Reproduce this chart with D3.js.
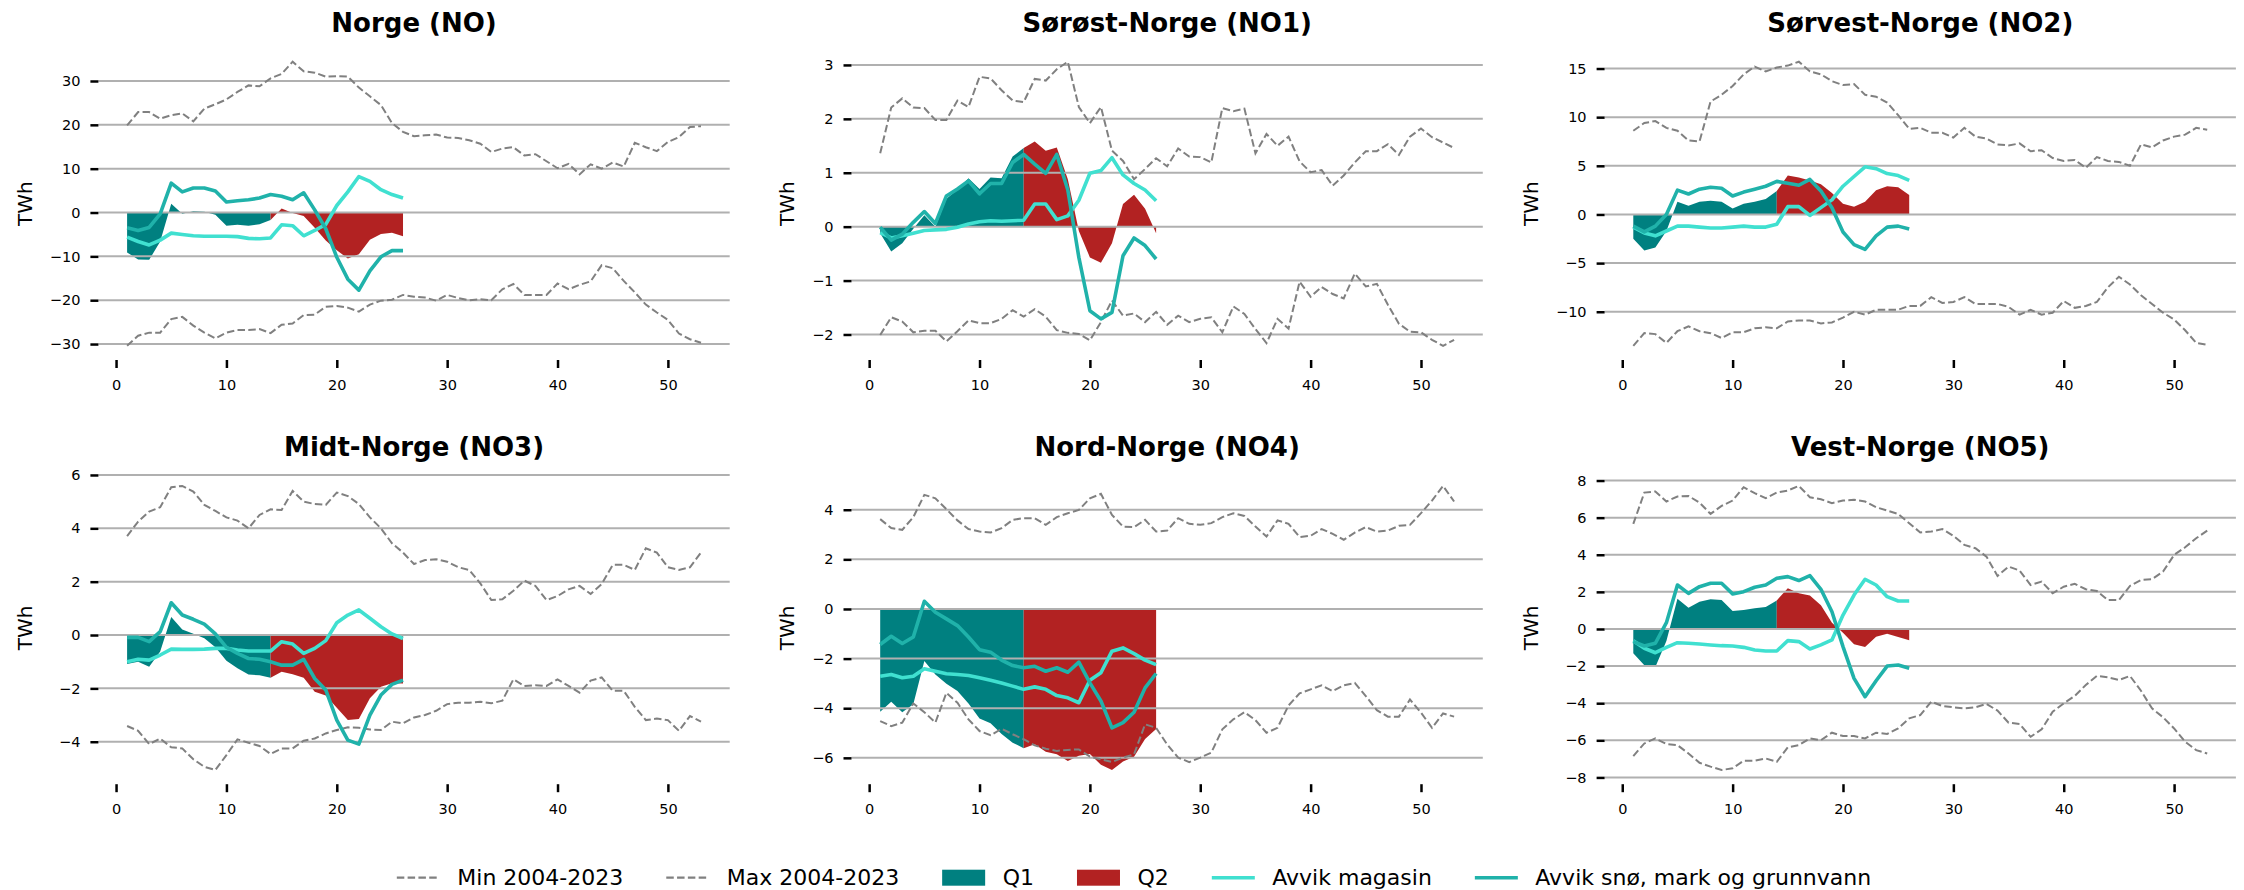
<!DOCTYPE html>
<html lang="no">
<head>
    <meta charset="UTF-8">
    <title>Avvik magasin og snø</title>
    <style>
        body { margin: 0; background: #fff; }
        text { font-family: "DejaVu Sans", sans-serif; fill: #000; }
    </style>
</head>
<body>
    <script src="https://cdn.jsdelivr.net/npm/d3@7"></script>
    <script>
        // uke 1-53
        var weeks = d3.range(1, 54);

        // Norge (NO)
        var noMax = [19.9,22.9,22.9,21.4,22.2,22.6,20.8,23.7,24.7,25.8,27.5,29.0,28.8,30.6,31.6,34.4,32.2,31.9,31.0,31.1,
                     31.0,28.5,26.5,24.5,20.4,18.4,17.4,17.6,17.8,17.1,17.0,16.5,15.7,13.8,14.6,14.9,13.0,13.3,11.7,10.1,
                     11.1,8.7,11.0,10.0,11.4,10.5,15.9,14.9,14.0,16.1,17.2,19.5,19.7];
        var noMin = [-30.4,-28.1,-27.4,-27.4,-24.3,-23.8,-25.8,-27.4,-28.7,-27.4,-26.8,-26.8,-26.6,-27.5,-25.6,-25.3,-23.4,-23.3,-21.5,-21.3,
                     -21.7,-22.6,-21.0,-20.1,-19.9,-18.8,-19.2,-19.4,-20.1,-18.8,-19.5,-20.0,-19.8,-20.0,-17.5,-16.3,-18.8,-18.8,-18.8,-16.2,
                     -17.5,-16.5,-15.7,-12.0,-12.7,-15.6,-18.2,-21.0,-22.8,-24.5,-27.6,-28.9,-29.7];
        var noMagasin = [-5.6,-6.6,-7.4,-6.3,-4.7,-5.0,-5.3,-5.4,-5.4,-5.4,-5.5,-5.9,-6.0,-5.8,-2.8,-3.0,-5.3,-4.1,-2.7,1.6,
                         4.7,8.2,7.1,5.2,4.1,3.3];
        var noSno = [-3.5,-4.1,-3.4,-0.3,6.7,4.7,5.6,5.6,4.9,2.4,2.7,2.9,3.3,4.1,3.7,2.9,4.5,0.6,-3.7,-10.2,
                     -15.2,-17.7,-13.3,-10.1,-8.7,-8.7];
        var noTicks = [-30, -20, -10, 0, 10, 20, 30];

        // Sørøst-Norge (NO1)
        var no1Max = [1.36,2.21,2.38,2.21,2.20,1.98,1.98,2.34,2.22,2.78,2.75,2.53,2.34,2.31,2.74,2.71,2.92,3.06,2.22,1.92,
                      2.22,1.41,1.22,0.88,1.07,1.27,1.12,1.45,1.30,1.29,1.19,2.20,2.14,2.19,1.36,1.72,1.50,1.67,1.21,1.01,
                      1.05,0.76,0.95,1.19,1.40,1.40,1.53,1.33,1.67,1.82,1.66,1.56,1.46];
        var no1Min = [-2.01,-1.68,-1.76,-1.96,-1.93,-1.93,-2.13,-1.94,-1.74,-1.79,-1.79,-1.71,-1.55,-1.67,-1.53,-1.67,-1.92,-1.97,-1.99,-2.11,
                      -1.77,-1.37,-1.65,-1.61,-1.77,-1.58,-1.82,-1.65,-1.77,-1.71,-1.68,-1.96,-1.48,-1.62,-1.90,-2.16,-1.71,-1.89,-1.02,-1.30,
                      -1.12,-1.25,-1.33,-0.87,-1.11,-1.06,-1.45,-1.80,-1.95,-1.96,-2.10,-2.21,-2.10];
        var no1Magasin = [-0.11,-0.21,-0.17,-0.12,-0.07,-0.06,-0.05,-0.01,0.05,0.09,0.11,0.10,0.11,0.12,0.42,0.42,0.13,0.20,0.49,0.99,
                          1.04,1.28,0.96,0.80,0.68,0.48];
        var no1Sno = [-0.01,-0.25,-0.14,0.08,0.28,0.06,0.57,0.70,0.85,0.61,0.80,0.80,1.19,1.34,1.16,0.99,1.34,0.68,-0.57,-1.56,
                      -1.71,-1.59,-0.54,-0.21,-0.35,-0.60];
        var no1Ticks = [-2, -1, 0, 1, 2, 3];

        // Sørvest-Norge (NO2)
        var no2Max = [8.6,9.4,9.6,8.9,8.6,7.6,7.5,11.6,12.3,13.2,14.4,15.2,14.7,15.1,15.3,15.7,14.7,14.4,13.7,13.3,
                      13.4,12.3,12.1,11.5,10.2,8.8,8.9,8.4,8.4,7.9,8.9,8.0,7.8,7.2,7.1,7.3,6.5,6.6,5.8,5.5,
                      5.6,4.8,5.9,5.5,5.4,5.0,7.2,6.9,7.6,8.0,8.2,8.9,8.7];
        var no2Min = [-13.5,-12.2,-12.3,-13.2,-12.0,-11.5,-12.0,-12.2,-12.7,-12.1,-12.1,-11.7,-11.6,-11.7,-11.0,-10.9,-10.9,-11.2,-11.1,-10.6,
                      -10.0,-10.3,-9.8,-9.8,-9.8,-9.4,-9.4,-8.5,-9.1,-9.0,-8.5,-9.2,-9.2,-9.2,-9.5,-10.3,-9.8,-10.3,-10.1,-8.9,
                      -9.6,-9.4,-9.0,-7.5,-6.4,-7.2,-8.3,-9.2,-10.1,-10.8,-11.9,-13.2,-13.4];
        var no2Magasin = [-1.3,-1.9,-2.2,-1.7,-1.2,-1.2,-1.3,-1.4,-1.4,-1.3,-1.2,-1.3,-1.3,-1.0,0.8,0.8,-0.1,0.7,1.5,2.9,
                          3.9,4.9,4.7,4.2,4.0,3.5];
        var no2Sno = [-1.2,-1.8,-1.2,0.0,2.5,2.1,2.6,2.8,2.7,1.9,2.3,2.6,2.9,3.4,3.2,3.0,3.6,2.4,0.7,-1.8,
                      -3.1,-3.6,-2.2,-1.3,-1.2,-1.5];
        var no2Ticks = [-10, -5, 0, 5, 10, 15];

        // Midt-Norge (NO3)
        var no3Max = [3.71,4.25,4.63,4.79,5.54,5.59,5.38,4.88,4.65,4.41,4.29,4.00,4.50,4.71,4.69,5.40,5.00,4.91,4.88,5.34,
                      5.21,4.91,4.41,4.00,3.44,3.09,2.66,2.81,2.84,2.75,2.54,2.44,1.94,1.31,1.34,1.66,2.04,1.84,1.31,1.46,
                      1.71,1.84,1.54,1.91,2.63,2.63,2.44,3.25,3.09,2.54,2.44,2.54,3.09];
        var no3Min = [-3.41,-3.59,-4.09,-3.88,-4.21,-4.25,-4.66,-4.94,-5.06,-4.50,-3.91,-4.04,-4.16,-4.46,-4.25,-4.25,-3.96,-3.88,-3.69,-3.56,
                      -3.46,-3.48,-3.54,-3.56,-3.25,-3.31,-3.09,-3.00,-2.84,-2.59,-2.54,-2.54,-2.50,-2.56,-2.46,-1.66,-1.91,-1.88,-1.91,-1.66,
                      -1.91,-2.16,-1.71,-1.59,-2.09,-2.09,-2.69,-3.19,-3.13,-3.19,-3.59,-3.04,-3.25];
        var no3Magasin = [-1.00,-0.91,-0.94,-0.75,-0.53,-0.54,-0.54,-0.53,-0.50,-0.50,-0.56,-0.60,-0.60,-0.60,-0.25,-0.34,-0.69,-0.50,-0.21,0.46,
                          0.75,0.94,0.63,0.31,0.04,-0.13];
        var no3Sno = [-0.09,-0.09,-0.25,0.13,1.21,0.75,0.59,0.41,0.04,-0.46,-0.69,-0.88,-0.91,-1.00,-1.13,-1.13,-0.91,-1.63,-2.06,-3.19,
                      -3.94,-4.09,-3.00,-2.25,-1.85,-1.69];
        var no3Ticks = [-4, -2, 0, 2, 4, 6];

        // Nord-Norge (NO4)
        var no4Max = [3.62,3.26,3.19,3.70,4.60,4.46,4.02,3.57,3.22,3.12,3.08,3.26,3.59,3.66,3.66,3.39,3.70,3.86,3.99,4.46,
                      4.64,3.79,3.32,3.30,3.59,3.12,3.16,3.66,3.43,3.39,3.46,3.70,3.86,3.75,3.32,2.92,3.57,3.43,2.90,2.95,
                      3.22,3.03,2.79,3.08,3.30,3.12,3.16,3.35,3.39,3.86,4.37,4.96,4.33];
        var no4Min = [-4.52,-4.72,-4.58,-3.81,-4.16,-4.58,-3.38,-3.78,-4.45,-4.92,-5.09,-4.83,-5.05,-5.25,-5.50,-5.63,-5.72,-5.68,-5.66,-5.95,
                      -6.06,-6.17,-5.99,-5.86,-4.65,-4.79,-5.46,-5.99,-6.17,-5.99,-5.79,-4.85,-4.45,-4.16,-4.48,-4.99,-4.79,-3.89,-3.40,-3.24,
                      -3.08,-3.31,-3.08,-2.98,-3.51,-4.08,-4.34,-4.34,-3.65,-4.18,-4.79,-4.21,-4.34];
        var no4Magasin = [-2.71,-2.64,-2.77,-2.71,-2.41,-2.51,-2.61,-2.64,-2.68,-2.77,-2.87,-2.98,-3.11,-3.24,-3.14,-3.24,-3.49,-3.58,-3.78,-2.87,
                          -2.57,-1.70,-1.57,-1.80,-2.06,-2.24];
        var no4Sno = [-1.43,-1.10,-1.39,-1.13,0.31,-0.13,-0.40,-0.67,-1.13,-1.64,-1.74,-2.06,-2.28,-2.37,-2.31,-2.51,-2.37,-2.55,-2.14,-2.98,
                      -3.71,-4.79,-4.58,-4.16,-3.18,-2.60];
        var no4Ticks = [-6, -4, -2, 0, 2, 4];

        // Vest-Norge (NO5)
        var no5Max = [5.66,7.35,7.41,6.87,7.14,7.17,6.81,6.20,6.63,6.92,7.64,7.32,7.05,7.35,7.46,7.71,7.10,6.99,6.78,6.92,
                      6.96,6.87,6.56,6.38,6.20,5.70,5.20,5.25,5.38,5.02,4.53,4.35,3.90,2.86,3.36,3.15,2.37,2.55,1.92,2.28,
                      2.43,2.14,2.05,1.56,1.56,2.32,2.64,2.68,3.09,3.99,4.40,4.89,5.30];
        var no5Min = [-6.85,-6.17,-5.90,-6.20,-6.26,-6.71,-7.21,-7.42,-7.60,-7.51,-7.10,-7.10,-6.98,-7.16,-6.38,-6.26,-5.90,-5.99,-5.59,-5.77,
                      -5.77,-5.90,-5.59,-5.66,-5.36,-4.82,-4.64,-3.92,-4.15,-4.22,-4.28,-4.22,-4.04,-4.40,-5.05,-5.12,-5.81,-5.41,-4.46,-4.01,
                      -3.61,-3.02,-2.53,-2.61,-2.75,-2.53,-3.33,-4.28,-4.76,-5.36,-6.08,-6.53,-6.71];
        var no5Magasin = [-0.63,-1.04,-1.28,-0.99,-0.74,-0.77,-0.81,-0.86,-0.90,-0.92,-0.99,-1.13,-1.19,-1.19,-0.63,-0.68,-1.08,-0.86,-0.59,0.75,
                          1.83,2.68,2.37,1.74,1.51,1.51];
        var no5Sno = [-0.68,-0.92,-0.77,0.34,2.37,1.92,2.28,2.46,2.46,1.89,2.01,2.25,2.37,2.73,2.82,2.61,2.88,2.14,0.93,-0.95,
                      -2.66,-3.65,-2.79,-2.00,-1.94,-2.12];
        var no5Ticks = [-8, -6, -4, -2, 0, 2, 4, 6, 8];

        var xTicks = [0, 10, 20, 30, 40, 50];
        var legendLabels = ["Min 2004-2023", "Max 2004-2023", "Q1", "Q2", "Avvik magasin", "Avvik snø, mark og grunnvann"];

        var regions = [
            { title: "Norge (NO)",          max: noMax,  min: noMin,  mag: noMagasin,  sno: noSno,  ticks: noTicks },
            { title: "Sørøst-Norge (NO1)",  max: no1Max, min: no1Min, mag: no1Magasin, sno: no1Sno, ticks: no1Ticks },
            { title: "Sørvest-Norge (NO2)", max: no2Max, min: no2Min, mag: no2Magasin, sno: no2Sno, ticks: no2Ticks },
            { title: "Midt-Norge (NO3)",    max: no3Max, min: no3Min, mag: no3Magasin, sno: no3Sno, ticks: no3Ticks },
            { title: "Nord-Norge (NO4)",    max: no4Max, min: no4Min, mag: no4Magasin, sno: no4Sno, ticks: no4Ticks },
            { title: "Vest-Norge (NO5)",    max: no5Max, min: no5Min, mag: no5Magasin, sno: no5Sno, ticks: no5Ticks }
        ];

        var cRange = "#808080", cQ1 = "#008080", cQ2 = "#b22222", cMag = "#40e0d0", cSno = "#20b2aa", cGrid = "#b0b0b0";

        // layout
        var W = 2244, H = 890;
        var colLeft = [98.4, 851.5, 1604.6];
        var rowTop = [47.5, 471.7];
        var plotW = 631.3, plotH = 312.5;

        var svg = d3.select("body").append("svg")
            .attr("width", W)
            .attr("height", H);

        var yAxes = [[], [], []];

        regions.forEach(function(r, i) {
            var col = i % 3, row = Math.floor(i / 3);
            var g = svg.append("g")
                .attr("transform", "translate(" + colLeft[col] + "," + rowTop[row] + ")");

            // samlet avvik = magasin + snø (fylt flate)
            var total = r.mag.map(function(v, k) { return v + r.sno[k]; });

            var wExt = d3.extent(weeks), wPad = (wExt[1] - wExt[0]) * 0.05;
            var all = r.min.concat(r.max, r.mag, r.sno, total, [0]);
            var lo = d3.min(all), hi = d3.max(all), pad = (hi - lo) * 0.05;

            var x = d3.scaleLinear().domain([wExt[0] - wPad, wExt[1] + wPad]).range([0, plotW]);
            var y = d3.scaleLinear().domain([lo - pad, hi + pad]).range([plotH, 0]);

            var area = d3.area()
                .x(function(d) { return x(d.w); })
                .y0(y(0))
                .y1(function(d) { return y(d.v); });

            var pts = total.map(function(v, k) { return { w: weeks[k], v: v }; });
            g.append("path").datum(pts.slice(0, 14)).attr("d", area).attr("fill", cQ1);
            g.append("path").datum(pts.slice(13, 26)).attr("d", area).attr("fill", cQ2);

            // grid over fills (matplotlib axisbelow='line')
            g.selectAll(".grid")
                .data(r.ticks)
                .enter()
                .append("line")
                .attr("x1", 0).attr("x2", plotW)
                .attr("y1", function(d) { return y(d); })
                .attr("y2", function(d) { return y(d); })
                .attr("stroke", cGrid)
                .attr("stroke-width", 2);

            var line = d3.line()
                .x(function(d, k) { return x(weeks[k]); })
                .y(function(d) { return y(d); });

            [r.min, r.max].forEach(function(s) {
                g.append("path").datum(s).attr("d", line)
                    .attr("fill", "none")
                    .attr("stroke", cRange)
                    .attr("stroke-width", 2)
                    .attr("stroke-dasharray", "7.5,3.3");
            });

            g.append("path").datum(r.mag).attr("d", line)
                .attr("fill", "none").attr("stroke", cMag).attr("stroke-width", 3.6)
                .attr("stroke-linejoin", "round");
            g.append("path").datum(r.sno).attr("d", line)
                .attr("fill", "none").attr("stroke", cSno).attr("stroke-width", 3.6)
                .attr("stroke-linejoin", "round");

            // axes
            var ya = g.append("g")
                .call(d3.axisLeft(y).tickValues(r.ticks).tickSize(8).tickPadding(10).tickFormat(d3.format("d")));
            ya.select(".domain").remove();
            ya.selectAll("line").attr("stroke", "#000").attr("stroke-width", 2.5);
            ya.selectAll("text").attr("font-size", 14.5).attr("font-family", "DejaVu Sans");
            yAxes[col].push(ya);

            var xa = g.append("g")
                .attr("transform", "translate(0," + plotH + ")")
                .call(d3.axisBottom(x).tickValues(xTicks).tickSize(8).tickPadding(11.5).tickFormat(d3.format("d")));
            xa.select(".domain").remove();
            xa.selectAll("line").attr("stroke", "#000").attr("stroke-width", 2.5);
            xa.selectAll("text").attr("font-size", 14.5).attr("font-family", "DejaVu Sans");

            g.append("text")
                .attr("x", plotW / 2)
                .attr("y", -16)
                .attr("text-anchor", "middle")
                .attr("font-size", 26)
                .attr("font-weight", "bold")
                .text(r.title);
        });

        // TWh labels, aligned per column on the widest tick labels
        yAxes.forEach(function(list, col) {
            var minX = d3.min(list, function(a) { return a.node().getBBox().x; });
            [0, 1].forEach(function(row) {
                var cx = colLeft[col] + minX - 25;
                var cy = rowTop[row] + plotH / 2;
                svg.append("text")
                    .attr("transform", "translate(" + cx + "," + cy + ") rotate(-90)")
                    .attr("text-anchor", "middle")
                    .attr("dy", "0.35em")
                    .attr("font-size", 20)
                    .text("TWh");
            });
        });

        // legend
        var legendStyle = [
            { kind: "dash", color: cRange },
            { kind: "dash", color: cRange },
            { kind: "box", color: cQ1 },
            { kind: "box", color: cQ2 },
            { kind: "line", color: cMag },
            { kind: "line", color: cSno }
        ];
        var legend = svg.append("g");
        var lx = 0, handleLen = 43, legendY = 877.7;
        legendLabels.forEach(function(label, i) {
            var s = legendStyle[i];
            var item = legend.append("g").attr("transform", "translate(" + lx + ",0)");
            if (s.kind === "box") {
                item.append("rect").attr("x", 0).attr("y", -8).attr("width", handleLen).attr("height", 16)
                    .attr("fill", s.color);
            } else {
                item.append("line").attr("x1", 0).attr("x2", handleLen).attr("y1", 0).attr("y2", 0)
                    .attr("stroke", s.color)
                    .attr("stroke-width", s.kind === "dash" ? 2.2 : 3.6)
                    .attr("stroke-dasharray", s.kind === "dash" ? "7.5,3.3" : null);
            }
            var t = item.append("text")
                .attr("x", handleLen + 17.5)
                .attr("dy", "0.35em")
                .attr("font-size", 22)
                .text(label);
            lx += handleLen + 17.5 + t.node().getComputedTextLength() + 43;
        });
        var legendW = lx - 43;
        legend.attr("transform", "translate(" + (1134 - legendW / 2) + "," + legendY + ")");
    </script>
</body>
</html>
